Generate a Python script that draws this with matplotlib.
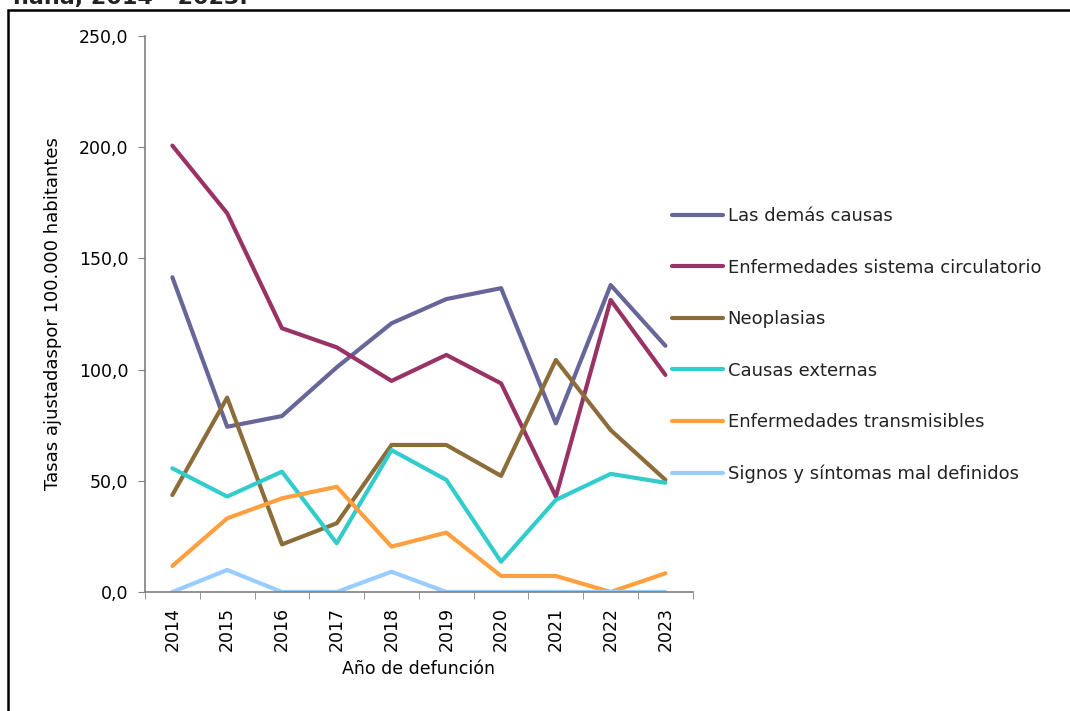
import matplotlib.pyplot as plt
from matplotlib.patches import Rectangle
from matplotlib.ticker import FuncFormatter, MultipleLocator
import numpy as np

# Datos
anios = ['2014', '2015', '2016', '2017', '2018', '2019', '2020', '2021', '2022', '2023']
demas_causas = [141.5, 74.3, 79.1, 101.0, 120.8, 131.7, 136.6, 75.8, 138.0, 110.7]
circulatorio = [200.7, 170.3, 118.6, 110.0, 94.9, 106.6, 93.8, 42.9, 131.3, 97.6]
neoplasias = [43.6, 87.4, 21.4, 30.9, 66.1, 66.1, 52.2, 104.3, 72.8, 50.4]
externas = [55.6, 42.9, 54.1, 21.9, 63.8, 50.4, 13.6, 41.4, 53.1, 49.1]
transmisibles = [11.7, 33.1, 42.1, 47.3, 20.4, 26.7, 7.2, 7.2, 0.0, 8.4]
signos = [0.0, 9.9, 0.0, 0.0, 9.1, 0.0, 0.0, 0.0, 0.0, 0.0]

series = [
    ('Las demás causas', demas_causas, '#666699'),
    ('Enfermedades sistema circulatorio', circulatorio, '#993366'),
    ('Neoplasias', neoplasias, '#8c6d3a'),
    ('Causas externas', externas, '#33cccc'),
    ('Enfermedades transmisibles', transmisibles, '#ffa040'),
    ('Signos y síntomas mal definidos', signos, '#99ccff'),
]

plt.rcParams['font.family'] = ['DejaVu Sans']
plt.rcParams['text.color'] = '#222222'

fig = plt.figure(figsize=(10.7, 7.11), dpi=100)
ax = fig.add_axes([0.1355, 0.1674, 0.512, 0.782])

x = np.arange(len(anios))
for nombre, valores, color in series:
    ax.plot(x, valores, color=color, lw=3, label=nombre, solid_capstyle='round')

ax.set_xlim(-0.5, len(anios) - 0.5)
ax.set_ylim(0, 250)
ax.yaxis.set_major_locator(MultipleLocator(50))
ax.yaxis.set_major_formatter(FuncFormatter(lambda v, p: f'{v:.1f}'.replace('.', ',')))
ax.set_xticks(x)
ax.set_xticklabels(anios, rotation=90, fontsize=12.5)
ax.set_xticks(np.arange(-0.5, len(anios)), minor=True)
ax.tick_params(axis='x', which='major', length=0, pad=11)
ax.tick_params(axis='x', which='minor', length=5, color='#808080')
ax.tick_params(axis='y', length=5, color='#808080', labelsize=12.5, pad=7)

for s in ['top', 'right']:
    ax.spines[s].set_visible(False)
for s in ['left', 'bottom']:
    ax.spines[s].set_color('#808080')
    ax.spines[s].set_linewidth(1.2)

ax.set_xlabel('Año de defunción', fontsize=12.5, labelpad=6)
ax.set_ylabel('Tasas ajustadaspor 100.000 habitantes', fontsize=13, labelpad=12)

ax.legend(loc='upper left', bbox_to_anchor=(672 / 1070, 1 - 207 / 711),
          bbox_transform=fig.transFigure, frameon=False, borderpad=0, borderaxespad=0,
          fontsize=13, handlelength=2.8, handletextpad=0.28, labelspacing=1.86)

# marco exterior y titulo recortado
fig.patches.append(Rectangle((0.0075, -0.1), 1.1, 1.086, transform=fig.transFigure,
                             fill=False, edgecolor='black', lw=1.8, clip_on=False))
fig.text(0.012, 1 - 4 / 711, 'ñaña, 2014 - 2023.', fontsize=16, fontweight='bold',
         va='baseline')

fig.savefig('out.png', dpi=100)
